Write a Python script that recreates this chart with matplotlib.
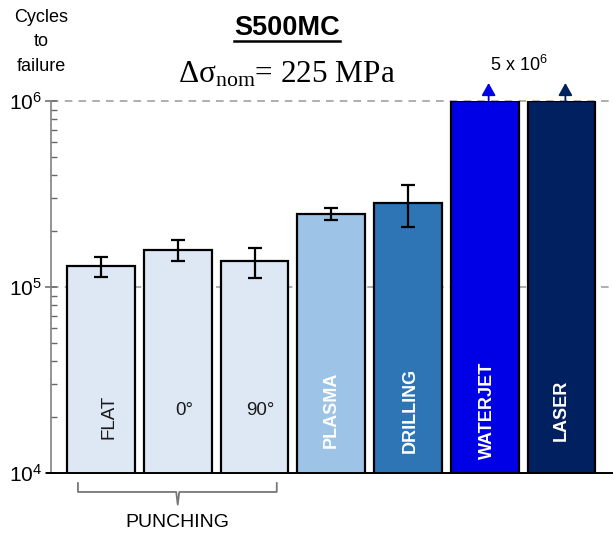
import matplotlib
matplotlib.use('Agg')
import matplotlib.pyplot as plt
from matplotlib.lines import Line2D
import numpy as np

plt.rcParams['font.family'] = ['Liberation Sans', 'DejaVu Sans']

# data (cycles to failure, log scale)
categories = ['FLAT', '0°', '90°', 'PLASMA', 'DRILLING', 'WATERJET', 'LASER']
cycles = [1.30e5, 1.58e5, 1.38e5, 2.47e5, 2.82e5, 1.0e6, 1.0e6]
err_lo = [1.13e5, 1.38e5, 1.12e5, 2.29e5, 2.11e5, None, None]
err_hi = [1.445e5, 1.79e5, 1.63e5, 2.65e5, 3.53e5, None, None]
runout = [False, False, False, False, False, True, True]
runout_label = '5 x $\\mathregular{10^6}$'
group_label = 'PUNCHING'
group_members = [0, 1, 2]

bar_colors = ['#dde8f4', '#dde8f4', '#dde8f4', '#9dc3e6', '#2e75b6', '#0000e6', '#002060']
label_colors = ['#1a1a1a', '#1a1a1a', '#1a1a1a', 'white', 'white', 'white', 'white']
label_bold = [False, False, False, True, True, True, True]
label_rot = [90, 0, 0, 90, 90, 90, 90]
label_dx = [0.1, 0.08, 0.08, 0.0, 0.03, 0.03, 0.0]

fig = plt.figure(figsize=(6.13, 5.37), dpi=100)
ax = fig.add_axes([51 / 613, 64 / 537, 562 / 613, 372 / 537])

x = np.arange(len(categories))
ax.set_yscale('log')
ax.set_ylim(1e4, 1e6)
ax.set_xlim(-0.651, 6.67)

# dashed reference lines at decades
for yv in [1e5, 1e6]:
    ax.axhline(yv, color='#999999', ls=(0, (5, 4)), lw=1.1, zorder=0, clip_on=False)

ax.bar(x, cycles, width=0.88, color=bar_colors, edgecolor='black', linewidth=1.6, zorder=2)

# error bars
for i in range(len(categories)):
    if err_lo[i] is None:
        continue
    yerr = [[cycles[i] - err_lo[i]], [err_hi[i] - cycles[i]]]
    ax.errorbar(x[i], cycles[i], yerr=yerr, fmt='none', ecolor='black',
                elinewidth=1.6, capsize=5, capthick=1.6, zorder=3)

# run-out arrows
for i in range(len(categories)):
    if runout[i]:
        ax.annotate('', xy=(x[i] + 0.05, cycles[i] * 1.25), xytext=(x[i] + 0.05, cycles[i]),
                    arrowprops=dict(arrowstyle='-|>,head_length=0.75,head_width=0.42',
                                    color=bar_colors[i], lw=1.3, shrinkA=0, shrinkB=0),
                    annotation_clip=False)
run_x = np.mean([x[i] for i in range(len(categories)) if runout[i]])
ax.text(run_x - 0.05, 1.56e6, runout_label, ha='center', va='center', fontsize=13)

# labels inside bars
for i, name in enumerate(categories):
    yl = 2.0e4 if label_rot[i] == 90 and not label_bold[i] else 2.18e4
    ax.text(x[i] + label_dx[i], yl, name, rotation=label_rot[i], ha='center', va='center',
            color=label_colors[i], fontsize=13.5 if not label_bold[i] else 13,
            fontweight='bold' if label_bold[i] else 'normal', zorder=4)

# axes styling
for s in ['top', 'right']:
    ax.spines[s].set_visible(False)
ax.spines['left'].set_color('#808080')
ax.spines['left'].set_linewidth(1.2)
ax.spines['bottom'].set_linewidth(1.4)
ax.spines['bottom'].set_bounds(-0.7, 6.67)
ax.set_xticks([])
ax.set_yticks([1e4, 1e5, 1e6])
ax.set_yticklabels(['$\\mathregular{10^4}$', '$\\mathregular{10^5}$', '$\\mathregular{10^6}$'])
ax.tick_params(axis='y', which='major', direction='inout', length=9, width=1.1,
               color='#666666', labelsize=15, pad=2)
ax.tick_params(axis='y', which='minor', direction='in', length=4, width=1.0, color='#666666')

# group bracket under the punching bars
trans = ax.get_xaxis_transform()
x0 = x[group_members[0]] - 0.30
x1 = x[group_members[-1]] + 0.29
xm = np.mean([x[i] for i in group_members])
ax.plot([x0, x0, xm - 0.02, xm, xm + 0.02, x1, x1],
        [-0.027, -0.051, -0.051, -0.085, -0.051, -0.051, -0.027],
        color='#777777', lw=1.3, transform=trans, clip_on=False)
ax.text(xm, -0.134, group_label, transform=trans, ha='center', va='center', fontsize=14)

# titles
fig.text(41 / 613, 1 - 42 / 537, 'Cycles\nto\nfailure', ha='center', va='center',
         fontsize=13, linespacing=1.55)
title = fig.text(287 / 613, 1 - 28 / 537, 'S500MC', ha='center', va='center',
                 fontsize=19.5, fontweight='bold')
fig.text(287 / 613, 1 - 75 / 537, '$\\mathregular{Δσ_{nom}}$= 225 MPa', ha='center',
         va='center', fontsize=22.5, family='Liberation Serif')

fig.canvas.draw()
bb = title.get_window_extent().transformed(fig.transFigure.inverted())
fig.add_artist(Line2D([bb.x0, bb.x1], [1 - 41 / 537] * 2, color='black', lw=1.8,
                      transform=fig.transFigure))

fig.savefig('out.png', dpi=100)
